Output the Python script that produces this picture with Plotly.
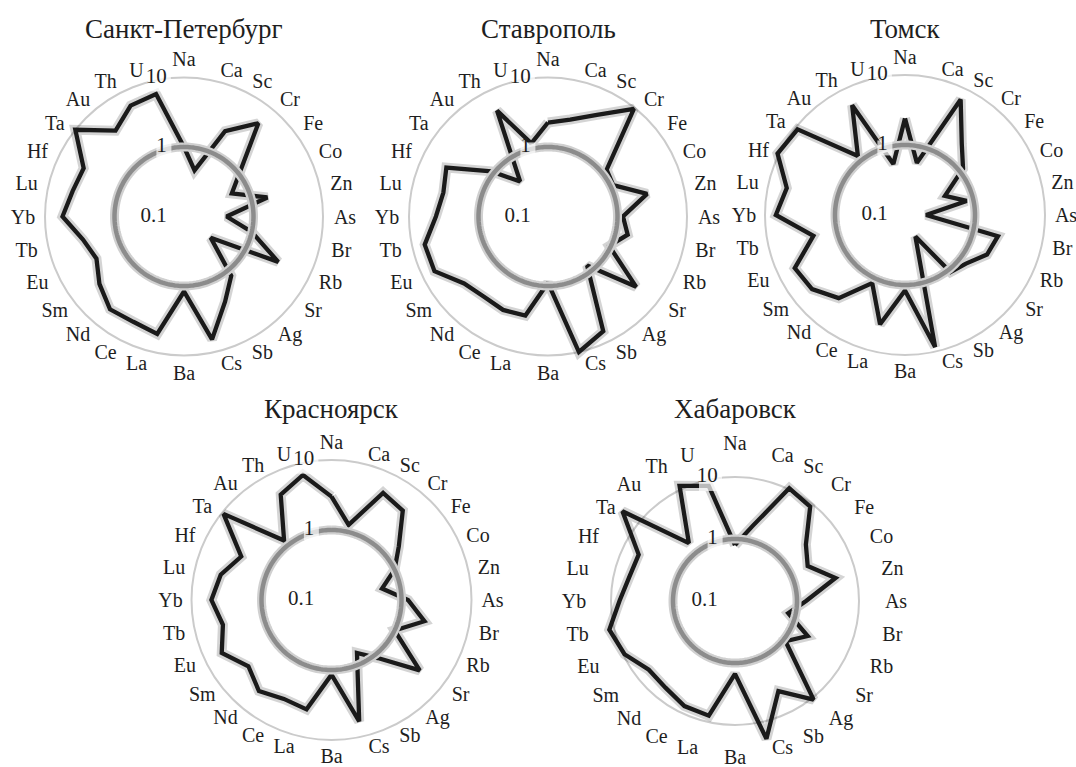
import math
import numpy as np
import plotly.graph_objects as go

# Element order around each radar (clockwise from the top)
elements = ["Na", "Ca", "Sc", "Cr", "Fe", "Co", "Zn", "As", "Br", "Rb",
            "Sr", "Ag", "Sb", "Cs", "Ba", "La", "Ce", "Nd", "Sm", "Eu",
            "Tb", "Yb", "Lu", "Hf", "Ta", "Au", "Th", "U"]

# Enrichment values per city (log radial scale)
spb = [1.0, 0.48, 2.3, 5.2, 1.07, 0.58, 1.7, 0.41, 1.0, 3.2,
       0.31, 1.23, 2.3, 6.5, 1.2, 5.4, 4.8, 5.1, 3.6, 2.5,
       3.1, 5.6, 4.4, 4.0, 10.0, 3.8, 5.9, 6.4]
stavropol = [2.25, 2.7, 4.2, 9.6, 1.2, 1.1, 2.9, 1.2, 1.5, 0.95,
             4.2, 0.8, 6.8, 10.0, 0.9, 2.9, 3.1, 3.0, 3.5, 6.5,
             6.6, 4.1, 3.5, 4.2, 1.1, 0.44, 4.9, 1.2]
tomsk = [2.4, 0.58, 6.8, 2.0, 1.15, 0.43, 0.8, 0.2, 2.3, 2.0,
         1.3, 1.1, 0.22, 8.6, 1.2, 4.0, 1.2, 3.3, 5.0, 5.6,
         2.2, 7.0, 5.4, 10.5, 9.2, 1.2, 5.5, 0.56]
krasnoyarsk = [3.0, 1.26, 5.0, 4.3, 1.7, 1.0, 0.55, 1.24, 2.3, 1.0,
               4.1, 1.15, 0.69, 6.0, 1.17, 4.0, 3.7, 4.6, 3.3, 5.5,
               3.9, 5.2, 4.2, 2.7, 9.4, 1.22, 4.7, 6.8]
khabarovsk = [0.8, 1.7, 10.4, 8.8, 2.9, 2.0, 4.6, 1.4, 0.76, 2.0,
              1.1, 10.8, 4.1, 19.0, 1.5, 7.9, 7.6, 6.2, 6.0, 9.5,
              12.0, 7.3, 5.6, 5.3, 21.0, 1.56, 11.5, 8.0]

cities = ["Санкт-Петербург", "Ставрополь", "Томск", "Красноярск", "Хабаровск"]
series = [spb, stavropol, tomsk, krasnoyarsk, khabarovsk]

radial_ticks = [0.1, 1, 10]
radial_text = ["0.1", "1", "10"]
reference_level = 1

W, H = 1076, 767
SERIF = "Liberation Serif"
INK = "#1e1e1e"

# Panel geometry in pixels: centre x, centre y, radius of the "10" circle
panels = [
    (184, 216.5, 139),
    (548, 216.5, 139),
    (905, 215.0, 140),
    (331.5, 600.0, 140),
    (735, 601.0, 124),
]
title_y = [29, 29, 29, 409, 409]
# the polar area extends past the "10" circle so the rim labels fit inside it
OUTER_PX = 165

# Category labels sit on a slightly widened ring around each panel (pixels)
LABEL_RX, LABEL_RY, LABEL_SIDE, LABEL_DROP = 146.0, 150.0, 15.0, 2.0
LABEL_POLE_TOP, LABEL_POLE_BOTTOM = 8.0, 6.0

n = len(elements)
theta = [i * 360.0 / n for i in range(n)]
ring_theta = [float(t) for t in np.linspace(0, 360, 241)]


def px_radius(value, R10):
    """Pixel distance from the pole for a value on the log radial axis."""
    return R10 * (math.log10(value) + 1) / 2


def value_at_px(dist, R10):
    """Inverse of px_radius."""
    return 10 ** (2 * dist / R10 - 1)


def label_positions(R10):
    rs, ts = [], []
    for t in theta:
        a = math.radians(t)
        s, c = math.sin(a), math.cos(a)
        dy = -LABEL_RY * c + LABEL_DROP
        if abs(s) < 1e-6:
            side = 0.0
            dy += -LABEL_POLE_TOP if c > 0 else LABEL_POLE_BOTTOM
        else:
            side = math.copysign(LABEL_SIDE, s)
        dx = LABEL_RX * s + side
        rs.append(value_at_px(math.hypot(dx, dy), R10))
        ts.append(math.degrees(math.atan2(dx, -dy)) % 360)
    return rs, ts


fig = go.Figure()
layout = {}
for k, (name, vals, (cx, cy, R10)) in enumerate(zip(cities, series, panels), start=1):
    pid = "polar" if k == 1 else f"polar{k}"
    rmax = 2 * OUTER_PX / R10 - 1

    r_closed = list(vals) + [vals[0]]
    t_closed = theta + [theta[0]]

    # soft shadow under the data outline
    fig.add_trace(go.Scatterpolar(r=r_closed, theta=t_closed, mode="lines",
                                  line=dict(color="rgba(0,0,0,0.17)", width=10),
                                  hoverinfo="skip", subplot=pid))
    fig.add_trace(go.Scatterpolar(r=r_closed, theta=t_closed, mode="lines",
                                  line=dict(color="#1a1a1a", width=4.3),
                                  name=name, subplot=pid))
    # emphasised reference circle at 1
    fig.add_trace(go.Scatterpolar(r=[reference_level] * len(ring_theta), theta=ring_theta,
                                  mode="lines", line=dict(color="#d0d0d0", width=9),
                                  hoverinfo="skip", subplot=pid))
    fig.add_trace(go.Scatterpolar(r=[reference_level] * len(ring_theta), theta=ring_theta,
                                  mode="lines", line=dict(color="#8c8c8c", width=4.5),
                                  hoverinfo="skip", subplot=pid))

    # white boxes behind the "1" and "10" scale labels
    box_r = radial_ticks[1:]
    box_theta = [-math.degrees(math.atan2(off, px_radius(v, R10)))
                 for v, off in zip(box_r, (21, 25))]
    fig.add_trace(go.Scatterpolar(r=box_r, theta=box_theta, mode="markers",
                                  marker=dict(symbol="square", size=[15, 23], color="white",
                                              line=dict(width=0)),
                                  hoverinfo="skip", subplot=pid))
    # scale labels written just left of the vertical axis
    fig.add_trace(go.Scatterpolar(r=radial_ticks, theta=[0, 0, 0], mode="markers+text",
                                  text=radial_text, textposition="middle left",
                                  marker=dict(size=26, opacity=0),
                                  textfont=dict(family=SERIF, size=21, color=INK),
                                  hoverinfo="skip", subplot=pid))
    # element names around the rim
    lab_r, lab_t = label_positions(R10)
    fig.add_trace(go.Scatterpolar(r=lab_r, theta=lab_t, mode="text", text=elements,
                                  textposition="middle center", cliponaxis=False,
                                  textfont=dict(family=SERIF, size=20, color=INK),
                                  hoverinfo="skip", subplot=pid))

    layout[pid] = dict(
        domain=dict(x=[(cx - OUTER_PX) / W, (cx + OUTER_PX) / W],
                    y=[1 - (cy + OUTER_PX) / H, 1 - (cy - OUTER_PX) / H]),
        bgcolor="rgba(0,0,0,0)",
        radialaxis=dict(type="log", range=[-1, rmax], tickmode="array",
                        tickvals=radial_ticks, showticklabels=False,
                        angle=90, showline=False,
                        showgrid=True, gridcolor="#cbcbcb", gridwidth=1.5,
                        ticks="", layer="below traces"),
        angularaxis=dict(rotation=90, direction="clockwise", tickmode="array",
                         tickvals=theta, showticklabels=False, showgrid=False,
                         showline=False, ticks="", layer="below traces"),
    )

annotations = []
for (cx, cy, R10), name, ty in zip(panels, cities, title_y):
    annotations.append(dict(text=name, x=cx / W, y=1 - ty / H, xref="paper", yref="paper",
                            showarrow=False, xanchor="center", yanchor="middle",
                            font=dict(family=SERIF, size=27, color=INK)))

fig.update_layout(width=W, height=H, margin=dict(l=0, r=0, t=0, b=0),
                  paper_bgcolor="white", plot_bgcolor="white", showlegend=False,
                  annotations=annotations, **layout)

fig.write_html("out.html")
